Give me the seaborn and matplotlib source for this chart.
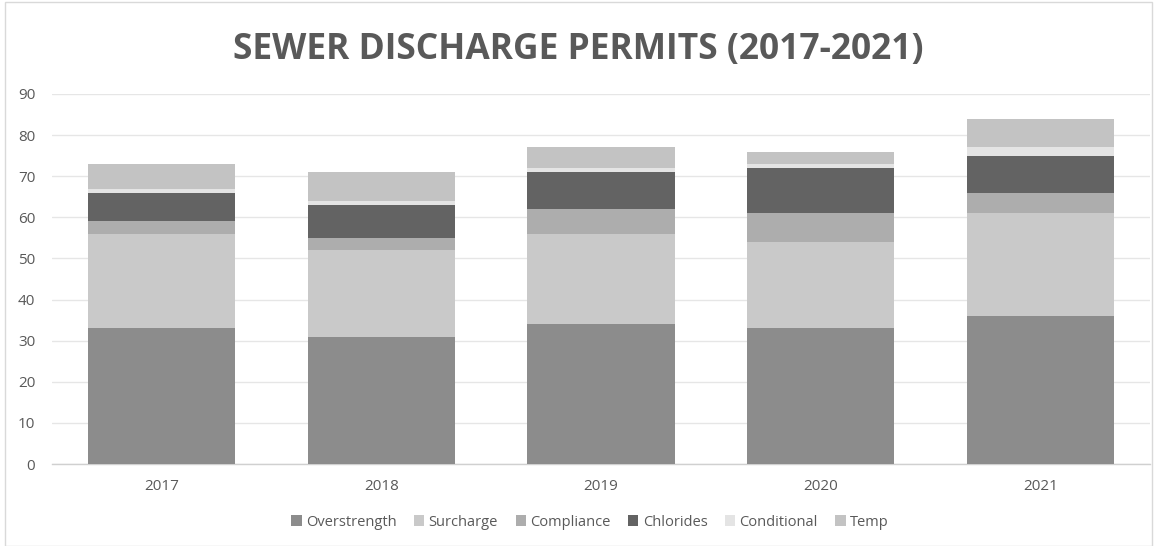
import matplotlib
matplotlib.use("Agg")
import matplotlib.pyplot as plt
import seaborn as sns
import pandas as pd
import numpy as np
from matplotlib.patches import Patch, Rectangle

years = ["2017", "2018", "2019", "2020", "2021"]
overstrength = [33, 31, 34, 33, 36]
surcharge = [23, 21, 22, 21, 25]
compliance = [3, 3, 6, 7, 5]
chlorides = [7, 8, 9, 11, 9]
conditional = [1, 1, 1, 1, 2]
temp = [6, 7, 5, 3, 7]

series_names = ["Overstrength", "Surcharge", "Compliance", "Chlorides", "Conditional", "Temp"]
series_vals = [overstrength, surcharge, compliance, chlorides, conditional, temp]
colors = ["#8c8c8c", "#c9c9c9", "#adadad", "#636363", "#e4e4e4", "#c3c3c3"]

sns.set_theme(style="white")
plt.rcParams["font.family"] = ["Open Sans", "DejaVu Sans"]

fig = plt.figure(figsize=(11.57, 5.46), dpi=100)
ax = fig.add_axes([52 / 1157, 1 - 464 / 546, 1098 / 1157, 370 / 546])

bottom = np.zeros(len(years))
for name, vals, col in zip(series_names, series_vals, colors):
    df = pd.DataFrame({"year": years, "value": vals})
    sns.barplot(data=df, x="year", y="value", bottom=bottom, color=col,
                width=0.67, ax=ax, saturation=1, edgecolor="none", zorder=3)
    bottom = bottom + np.array(vals)

ax.set_ylim(0, 90)
ax.set_xlim(-0.5, 4.5)
ax.set_yticks(range(0, 91, 10))
ax.yaxis.grid(True, color="#e6e6e6", linewidth=1, zorder=0)
ax.set_axisbelow(True)
for s in ["top", "right", "left"]:
    ax.spines[s].set_visible(False)
ax.spines["bottom"].set_color("#d0d0d0")
ax.spines["bottom"].set_linewidth(1)
ax.set_xlabel("")
ax.set_ylabel("")
ax.tick_params(axis="both", colors="#595959", labelsize=11, length=0)
ax.tick_params(axis="y", pad=12)
ax.tick_params(axis="x", pad=11)

fig.text(0.5, 1 - 50 / 546, "SEWER DISCHARGE PERMITS (2017-2021)", ha="center", va="center",
         fontsize=25.5, fontweight="bold", color="#595959")

handles = [Patch(facecolor=c, edgecolor="none", label=n) for n, c in zip(series_names, colors)]
fig.legend(handles=handles, loc="center", bbox_to_anchor=(0.51, 1 - 522 / 546), ncol=6,
           frameon=False, fontsize=10.5, handlelength=0.7, handleheight=0.7,
           handletextpad=0.3, columnspacing=1.2, labelcolor="#595959")

fig.patches.append(Rectangle((5 / 1157, 0), 1 - 10 / 1157, 1 - 2 / 546, transform=fig.transFigure,
                             fill=False, edgecolor="#d9d9d9", linewidth=1))

fig.savefig("out.png", dpi=100, facecolor="white")
